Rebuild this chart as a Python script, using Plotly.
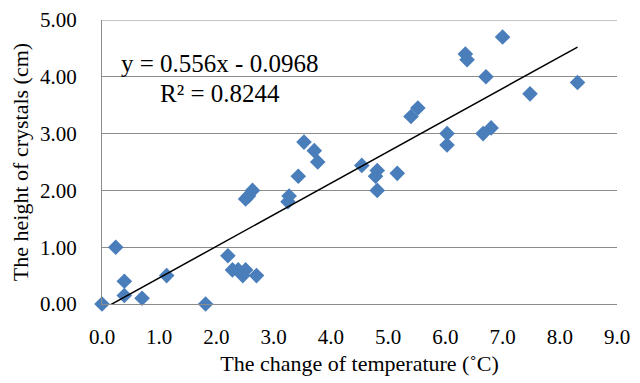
import plotly.graph_objects as go

# Data
temp_change = [0.00, 0.24, 0.39, 0.39, 0.70, 1.13, 1.81, 2.20, 2.28, 2.38, 2.46, 2.51,
               2.70, 2.51, 2.56, 2.63, 3.25, 3.27, 3.43, 3.53, 3.71, 3.77,
               4.54, 4.81, 4.78, 4.81, 5.16, 5.40, 5.52, 6.03, 6.03, 6.35, 6.38,
               6.71, 6.66, 6.80, 7.00, 7.48, 8.31]
crystal_height = [0.00, 1.00, 0.40, 0.15, 0.10, 0.50, 0.00, 0.85, 0.60, 0.60, 0.50, 0.60,
                  0.50, 1.85, 1.90, 2.00, 1.80, 1.90, 2.25, 2.85, 2.70, 2.50,
                  2.44, 2.35, 2.25, 2.00, 2.30, 3.30, 3.45, 3.00, 2.80, 4.40, 4.30,
                  4.00, 3.00, 3.10, 4.70, 3.70, 3.90]

slope = 0.556
intercept = -0.0968
r_squared = 0.8244

x_ticks = [0, 1, 2, 3, 4, 5, 6, 7, 8, 9]
y_ticks = [0, 1, 2, 3, 4, 5]

trend_x = [min(temp_change), max(temp_change)]
trend_y = [slope * v + intercept for v in trend_x]

font_family = "Liberation Serif, Times New Roman, serif"
grid_color = "#8c8c8c"

fig = go.Figure()
fig.add_trace(go.Scatter(
    x=temp_change, y=crystal_height, mode="markers",
    marker=dict(symbol="diamond", size=12, color="#4a7ebb",
                line=dict(width=0)),
    cliponaxis=False, showlegend=False))
fig.add_trace(go.Scatter(
    x=trend_x, y=trend_y, mode="lines",
    line=dict(color="black", width=1.5), showlegend=False))

fig.add_annotation(x=2.06, y=4.23, xref="x", yref="y",
                   text=f"y = {slope}x - {abs(intercept)}", showarrow=False,
                   font=dict(family=font_family, size=25, color="black"))
fig.add_annotation(x=2.06, y=3.70, xref="x", yref="y",
                   text=f"R² = {r_squared}", showarrow=False,
                   font=dict(family=font_family, size=25, color="black"))

# top gridline (the one at the upper edge of the y range)
fig.add_shape(type="line", xref="paper", yref="y", x0=0, x1=1,
              y0=max(y_ticks), y1=max(y_ticks),
              line=dict(color=grid_color, width=1), layer="below")

fig.update_layout(
    width=640, height=383,
    margin=dict(l=94, r=31, t=12, b=87),
    paper_bgcolor="white", plot_bgcolor="white",
    font=dict(family=font_family, size=21, color="black"),
    xaxis=dict(range=[0, 9], tickvals=x_ticks, tickformat=".1f",
               showgrid=False, zeroline=False,
               showline=True, linecolor=grid_color, linewidth=1,
               ticks="", ticklabelstandoff=14, automargin=False,
               ticklabeloverflow="allow",
               title=dict(text="The change of temperature (˚C)", standoff=7,
                          font=dict(size=22))),
    yaxis=dict(range=[0, 5], tickvals=y_ticks, tickformat=".2f",
               showgrid=True, gridcolor=grid_color, gridwidth=1,
               zeroline=False, showline=True, linecolor=grid_color,
               linewidth=1, ticks="", ticklabelstandoff=20, automargin=False,
               ticklabeloverflow="allow",
               title=dict(text="The height of crystals (cm)", standoff=6,
                          font=dict(size=22))),
)

fig.write_html("out.html")
